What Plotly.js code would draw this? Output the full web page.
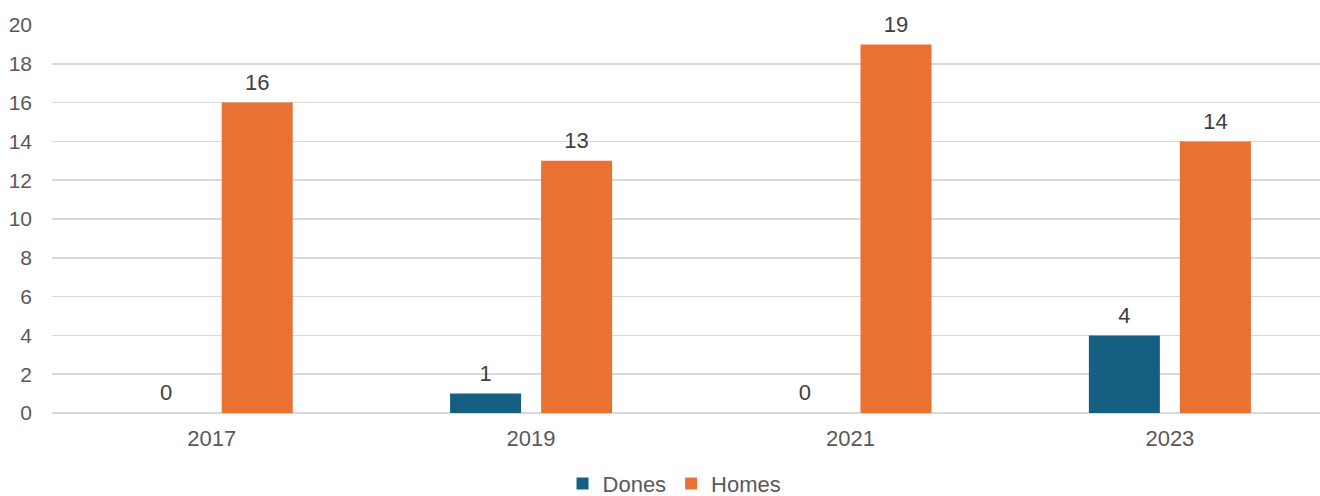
<!DOCTYPE html>
<html>
<head>
<meta charset="utf-8">
<script src="https://cdn.plot.ly/plotly-3.0.1.min.js"></script>
<style>html,body{margin:0;padding:0;background:#fff;}#chart{width:1320px;height:496px;}</style>
</head>
<body>
<div id="chart"></div>
<script>
const categories = ["2017", "2019", "2021", "2023"];
const dones = [0, 1, 0, 4];
const homes = [16, 13, 19, 14];
const seriesNames = ["Dones", "Homes"];
const colors = ["#156082", "#E97132"];
const yTicks = [0, 2, 4, 6, 8, 10, 12, 14, 16, 18, 20];

const FONT = "Liberation Sans, Arial, sans-serif";
const TXT = "#595959";
const series = [dones, homes];

const data = [];
series.forEach((vals, i) => {
  data.push({
    type: "bar", x: categories, y: vals, name: seriesNames[i],
    marker: {color: colors[i]}, hoverinfo: "skip"
  });
});
// value labels, grouped like the bars
series.forEach((vals, i) => {
  data.push({
    type: "scatter", mode: "markers+text", x: categories, y: vals, text: vals.map(String),
    textposition: "top center", showlegend: false, hoverinfo: "skip", cliponaxis: false,
    textfont: {family: FONT, size: 22, color: "#404040"},
    marker: {size: 10, opacity: 0}
  });
});

const layout = {
  width: 1320, height: 496,
  margin: {l: 52, r: 0, t: 25, b: 83},
  paper_bgcolor: "#fff", plot_bgcolor: "#fff",
  barmode: "group",
  bargap: 0.43,
  bargroupgap: 0.22,
  scattermode: "group",
  scattergap: 0.43,
  font: {family: FONT, size: 22, color: TXT},
  showlegend: true,
  legend: {orientation: "h", xref: "container", yref: "container", x: 0.511, xanchor: "center",
           y: 0.025, yanchor: "middle",
           font: {family: FONT, size: 22, color: TXT}, itemwidth: 30, traceorder: "normal"},
  xaxis: {type: "category", range: [-0.5, 3.47], showgrid: false, zeroline: false,
          showline: false, ticks: "", ticklabelstandoff: 10,
          tickfont: {family: FONT, size: 22, color: TXT}},
  yaxis: {range: [0, 20], tickvals: yTicks, showgrid: true, gridcolor: "#D9D9D9", gridwidth: 1.5,
          zeroline: true, zerolinecolor: "#D9D9D9", zerolinewidth: 1.5, showline: false, ticks: "",
          ticklabelstandoff: 19, tickfont: {family: FONT, size: 21, color: TXT}}
};

Plotly.newPlot("chart", data, layout, {displayModeBar: false, staticPlot: true});
</script>
</body>
</html>
